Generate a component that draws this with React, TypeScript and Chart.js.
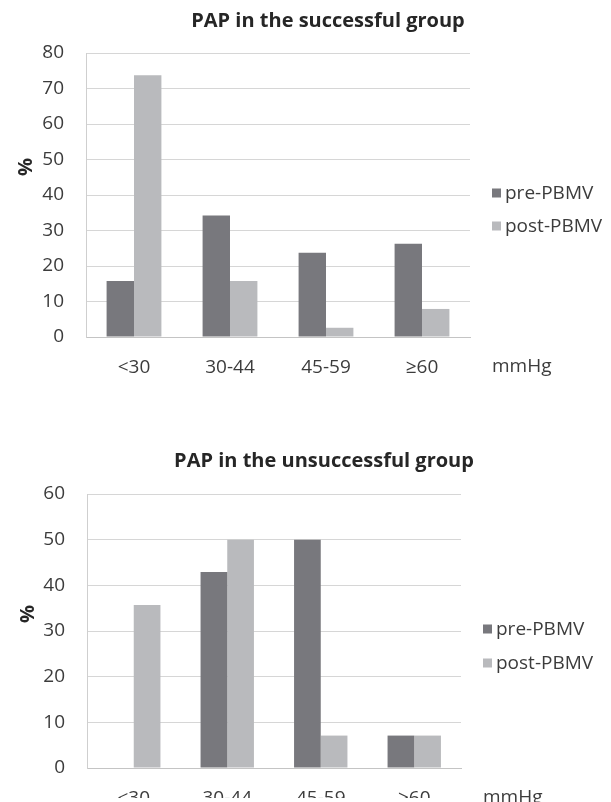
import React, { useEffect, useRef } from "react";
import { Chart, registerables } from "chart.js";

Chart.register(...registerables);

// ---- data ----
const categories = ["<30", "30-44", "45-59", "≥60"];
const seriesNames = ["pre-PBMV", "post-PBMV"];
const successfulPre = [15.8, 34.2, 23.7, 26.3];
const successfulPost = [73.7, 15.8, 2.6, 7.9];
const unsuccessfulPre = [0, 42.9, 50, 7.1];
const unsuccessfulPost = [35.7, 50, 7.1, 7.1];
const successfulTicks = [0, 10, 20, 30, 40, 50, 60, 70, 80];
const unsuccessfulTicks = [0, 10, 20, 30, 40, 50, 60];
const successfulTitle = "PAP in the successful group";
const unsuccessfulTitle = "PAP in the unsuccessful group";
const unitLabel = "mmHg";
const axisLabel = "%";

// ---- styles ----
const PRE_COLOR = "#78787d";
const POST_COLOR = "#b9babd";
const GRID_COLOR = "#d6d6d6";
const TEXT_COLOR = "#3c3c3c";
const TITLE_COLOR = "#262626";
const FONT = '"Open Sans", "Noto Sans", sans-serif';

type Layout = {
  width: number;
  height: number;
  padTop: number;
  padLeft: number;
  padRight: number;
  padBottom: number;
  xAxisHeight: number;
  titleDx: number;
  titleBaseline: number;
  pctDx: number;
  pctDy: number;
  legendDy: number;
  legendGap: number;
};

const extrasPlugin = {
  id: "extras",
  afterDraw(chart: any) {
    const o = chart.options.plugins.extras;
    const ctx = chart.ctx as CanvasRenderingContext2D;
    const a = chart.chartArea;
    ctx.save();
    // title
    ctx.fillStyle = TITLE_COLOR;
    ctx.font = `bold 20px ${FONT}`;
    ctx.textAlign = "center";
    ctx.textBaseline = "alphabetic";
    ctx.fillText(o.title, a.left + o.titleDx, o.titleBaseline);
    // y axis label
    ctx.save();
    ctx.translate(a.left + o.pctDx, a.top + o.pctDy);
    ctx.rotate(-Math.PI / 2);
    ctx.textBaseline = "middle";
    ctx.font = `bold 20px ${FONT}`;
    ctx.fillText(o.axisLabel, 0, 0);
    ctx.restore();
    // legend
    ctx.font = `19px ${FONT}`;
    ctx.textAlign = "left";
    ctx.textBaseline = "middle";
    chart.data.datasets.forEach((ds: any, i: number) => {
      const cy = a.top + o.legendDy + i * o.legendGap;
      ctx.fillStyle = ds.backgroundColor;
      ctx.fillRect(a.right + 22, cy - 4.5, 9, 9);
      ctx.fillStyle = TEXT_COLOR;
      ctx.fillText(ds.label, a.right + 35, cy + 1);
    });
    // unit label
    ctx.fillStyle = TEXT_COLOR;
    ctx.fillText(o.unit, a.right + 22, a.bottom + 30);
    ctx.restore();
  },
};

function makeConfig(
  title: string,
  pre: number[],
  post: number[],
  ticks: number[],
  L: Layout
): any {
  return {
    type: "bar",
    data: {
      labels: categories,
      datasets: [
        {
          label: seriesNames[0],
          data: pre,
          backgroundColor: PRE_COLOR,
          borderWidth: 0,
          categoryPercentage: 0.571,
          barPercentage: 1,
        },
        {
          label: seriesNames[1],
          data: post,
          backgroundColor: POST_COLOR,
          borderWidth: 0,
          categoryPercentage: 0.571,
          barPercentage: 1,
        },
      ],
    },
    options: {
      responsive: false,
      animation: false,
      devicePixelRatio: 1,
      layout: {
        padding: {
          top: L.padTop,
          left: L.padLeft,
          right: L.padRight,
          bottom: L.padBottom,
        },
      },
      plugins: {
        legend: { display: false },
        title: { display: false },
        tooltip: { enabled: false },
        extras: {
          title,
          unit: unitLabel,
          axisLabel,
          titleDx: L.titleDx,
          titleBaseline: L.titleBaseline,
          pctDx: L.pctDx,
          pctDy: L.pctDy,
          legendDy: L.legendDy,
          legendGap: L.legendGap,
        },
      },
      scales: {
        x: {
          grid: { display: false, drawTicks: false },
          border: { display: true, color: "#c4c4c4", width: 1 },
          ticks: {
            color: TEXT_COLOR,
            font: { family: FONT, size: 19 },
            padding: 19,
            maxRotation: 0,
          },
          afterFit: (s: any) => {
            s.height = L.xAxisHeight;
          },
        },
        y: {
          min: ticks[0],
          max: ticks[ticks.length - 1],
          afterBuildTicks: (s: any) => {
            s.ticks = ticks.map((v) => ({ value: v }));
          },
          grid: { color: GRID_COLOR, drawTicks: false, lineWidth: 1 },
          border: { display: true, color: "#cfcfcf", width: 1 },
          ticks: {
            color: TEXT_COLOR,
            font: { family: FONT, size: 19 },
            padding: 22,
          },
          afterFit: (s: any) => {
            s.width = 60;
          },
        },
      },
    },
    plugins: [extrasPlugin],
  };
}

function BarChart(props: {
  title: string;
  pre: number[];
  post: number[];
  ticks: number[];
  layout: Layout;
}) {
  const ref = useRef<HTMLCanvasElement | null>(null);
  useEffect(() => {
    if (!ref.current) return;
    const chart = new Chart(
      ref.current,
      makeConfig(props.title, props.pre, props.post, props.ticks, props.layout)
    );
    return () => chart.destroy();
  }, []);
  return (
    <canvas
      ref={ref}
      width={props.layout.width}
      height={props.layout.height}
      style={{ display: "block", width: props.layout.width, height: props.layout.height }}
    />
  );
}

const layoutTop: Layout = {
  width: 611,
  height: 400,
  padTop: 53,
  padLeft: 26,
  padRight: 141,
  padBottom: 23,
  xAxisHeight: 40,
  titleDx: 242,
  titleBaseline: 27,
  pctDx: -60,
  pctDy: 114,
  legendDy: 140,
  legendGap: 33,
};

const layoutBottom: Layout = {
  width: 611,
  height: 402,
  padTop: 94,
  padLeft: 27,
  padRight: 150,
  padBottom: 4,
  xAxisHeight: 30,
  titleDx: 237,
  titleBaseline: 67,
  pctDx: -59,
  pctDy: 120,
  legendDy: 135,
  legendGap: 34,
};

export default function App() {
  return (
    <div
      style={{
        position: "absolute",
        left: 0,
        top: 0,
        width: 611,
        height: 802,
        background: "#ffffff",
        overflow: "hidden",
      }}
    >
      <BarChart
        title={successfulTitle}
        pre={successfulPre}
        post={successfulPost}
        ticks={successfulTicks}
        layout={layoutTop}
      />
      <BarChart
        title={unsuccessfulTitle}
        pre={unsuccessfulPre}
        post={unsuccessfulPost}
        ticks={unsuccessfulTicks}
        layout={layoutBottom}
      />
    </div>
  );
}
